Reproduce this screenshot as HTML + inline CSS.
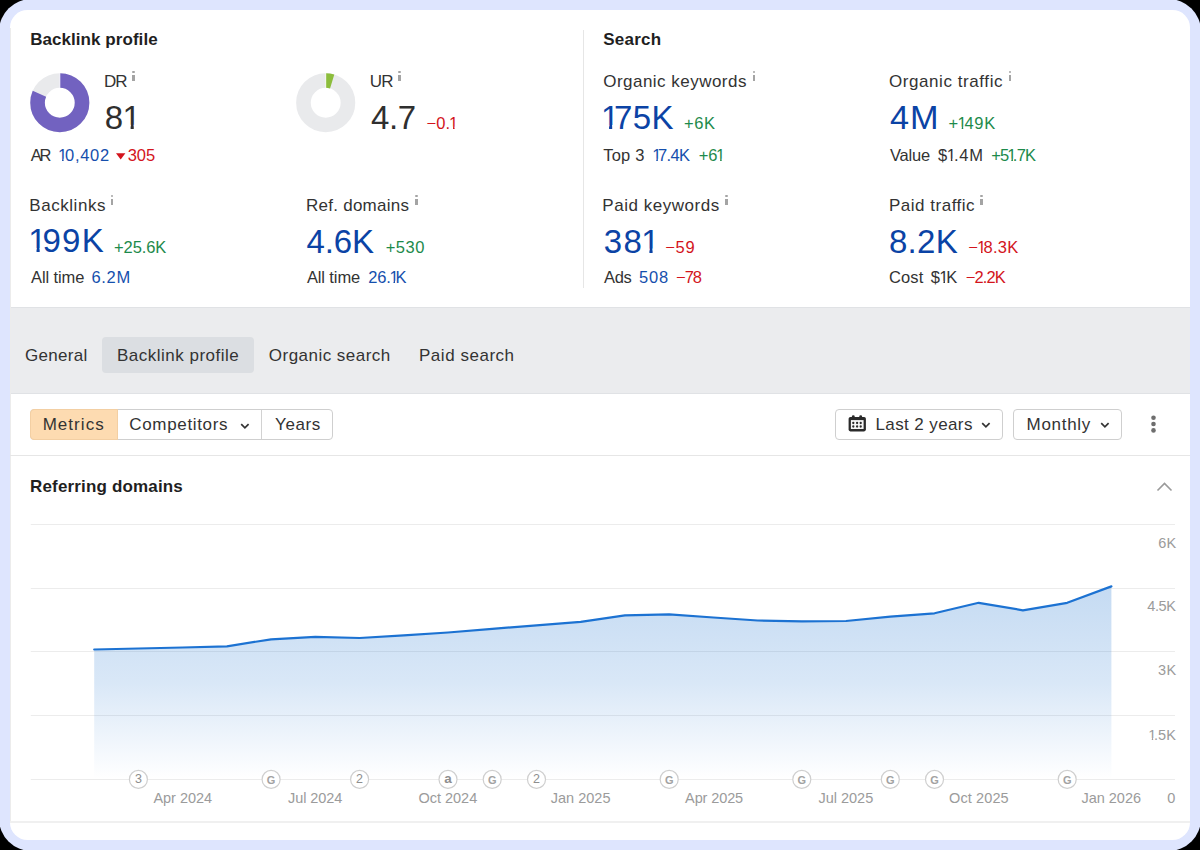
<!DOCTYPE html>
<html><head><meta charset="utf-8"><style>
*{box-sizing:border-box;margin:0;padding:0}
html,body{width:1200px;height:850px;overflow:hidden;background:#000}
body{font-family:"Liberation Sans",sans-serif;color:#333;position:relative}
#frame{position:absolute;left:-1.3px;top:-1.3px;width:1202.6px;height:852.6px;background:#dee5fe;border-radius:32.5px}
#card{position:absolute;left:10px;top:10px;width:1180px;height:830px;background:#fff;border-radius:17.5px;overflow:hidden}
.p{position:absolute;white-space:nowrap;line-height:1;font-family:"Liberation Sans",sans-serif}
.one{display:inline-block;margin-left:-.07em;margin-right:-.17em;clip-path:polygon(0 0,100% 0,100% .72em,.343em .72em,.343em 100%,.248em 100%,.248em .72em,0 .72em)}

.ii{position:absolute;width:2.6px;height:9.4px}
.ii:before{content:"";position:absolute;left:0;top:0;width:2.6px;height:2.1px;background:#a4a4a4;border-radius:1px}
.ii:after{content:"";position:absolute;left:0;top:3.5px;width:2.6px;height:6px;background:#a4a4a4}
.ln{position:absolute;background:#e6e6e6}
.btn{position:absolute;top:408.9px;height:31.4px;border:1px solid #cfcfcf;border-radius:4px;background:#fff}
</style></head><body>
<div id="frame"></div>
<div id="card">
  <!-- tabs band -->
  <div style="position:absolute;left:0;top:297px;width:1180px;height:87px;background:#ebecee;border-top:1.6px solid #e0e2e5;border-bottom:1.7px solid #e0e2e5"></div>
  <div style="position:absolute;left:92.3px;top:326.9px;width:152.1px;height:36.6px;background:#dbdee2;border-radius:4px"></div>
  <div style="position:absolute;left:0;top:18px;width:1px;height:795px;background:#ececec"></div>
  <!-- toolbar bottom border -->
  <div class="ln" style="left:0;top:445px;width:1180px;height:1px"></div>
  <!-- chart bottom border -->
  <div class="ln" style="left:0;top:811px;width:1180px;height:2px;background:#f0f0f0"></div>
</div>

<!-- vertical divider -->
<div class="ln" style="left:582.6px;top:29.5px;width:1.3px;height:258px;background:#e6e6e6"></div>

<!-- donuts -->
<svg style="position:absolute;left:0;top:0" width="600" height="170" viewBox="0 0 600 170">
  <g transform="translate(59.8,102.7)">
    <circle r="22.25" fill="none" stroke="#e9eaec" stroke-width="14.6"/>
    <circle r="22.25" fill="none" stroke="#7262c0" stroke-width="14.6" stroke-dasharray="113.3 200" transform="rotate(-90)"/>
    <line x1="0" y1="-14" x2="0" y2="-30" stroke="#fff" stroke-width="0.9"/>
  </g>
  <g transform="translate(325.7,102.7)">
    <circle r="22.25" fill="none" stroke="#e9eaec" stroke-width="14.6"/>
    <circle r="22.25" fill="none" stroke="#8cbd3c" stroke-width="14.6" stroke-dasharray="6.6 200" transform="rotate(-90)"/>
    <line x1="0" y1="-14" x2="0" y2="-30" stroke="#fff" stroke-width="0.9"/>
  </g>
  <!-- AR down triangle -->
  <path d="M116,153.2 H125.4 L120.7,159.4 Z" fill="#d3141c"/>
</svg>

<!-- info icons -->
<i class="ii" style="left:132.1px;top:71.2px"></i>
<i class="ii" style="left:398.2px;top:71.2px"></i>
<i class="ii" style="left:752.5px;top:71.2px"></i>
<i class="ii" style="left:1008.7px;top:71.2px"></i>
<i class="ii" style="left:110.7px;top:195px"></i>
<i class="ii" style="left:415px;top:195px"></i>
<i class="ii" style="left:725px;top:195px"></i>
<i class="ii" style="left:980px;top:195px"></i>

<!-- segmented control -->
<div class="btn" style="left:30.4px;width:302.8px">
  <div style="position:absolute;left:-1px;top:-1px;width:87.2px;height:31.4px;background:#fddbb1;border:1px solid #f3cfa3;border-radius:4px 0 0 4px"></div>
  <div style="position:absolute;left:229.8px;top:0;width:1px;height:29.4px;background:#d2d2d2"></div>
  <svg style="position:absolute;left:208.7px;top:12.8px" width="10" height="7"><path d="M1.2 1.2L4.9 4.9L8.6 1.2" fill="none" stroke="#333" stroke-width="1.7"/></svg>
</div>

<!-- date buttons -->
<div class="btn" style="left:835px;width:168px">

  <svg style="position:absolute;left:144.5px;top:12.6px" width="10" height="7"><path d="M1.2 1.2L4.9 4.9L8.6 1.2" fill="none" stroke="#333" stroke-width="1.7"/></svg>
</div>
<svg style="position:absolute;left:848px;top:414px" width="19" height="18" viewBox="0 0 19 18">
  <g fill="#2a2a2a">
    <rect x="0.6" y="2.9" width="17.3" height="14.5" rx="1.8"/>
    <circle cx="5.3" cy="2.7" r="1.45"/><circle cx="12.7" cy="2.7" r="1.45"/>
  </g>
  <rect x="2.9" y="6.1" width="12.7" height="8.9" fill="#f6f6f6"/>
  <g fill="#2a2a2a">
    <circle cx="5.3" cy="9" r="1.15"/><circle cx="9.1" cy="9" r="1.15"/><circle cx="12.7" cy="9" r="1.15"/>
    <circle cx="5.3" cy="12.5" r="1.15"/><circle cx="9.1" cy="12.5" r="1.15"/><circle cx="12.7" cy="12.5" r="1.15"/>
  </g>
</svg>
<div class="btn" style="left:1013px;width:109px">
  <svg style="position:absolute;left:85.6px;top:12.6px" width="10" height="7"><path d="M1.2 1.2L4.9 4.9L8.6 1.2" fill="none" stroke="#333" stroke-width="1.7"/></svg>
</div>
<svg style="position:absolute;left:1149px;top:413px" width="9" height="22">
  <circle cx="4.5" cy="4.7" r="2.3" fill="#6e6e6e"/><circle cx="4.5" cy="11" r="2.3" fill="#6e6e6e"/><circle cx="4.5" cy="17.4" r="2.3" fill="#6e6e6e"/>
</svg>

<!-- collapse chevron -->
<svg style="position:absolute;left:1156px;top:481px" width="17" height="11"><path d="M1.5 9.5L8.5 2.5L15.5 9.5" fill="none" stroke="#9a9a9a" stroke-width="1.6"/></svg>

<!-- chart -->
<svg style="position:absolute;left:0;top:0" width="1200" height="850" viewBox="0 0 1200 850">
  <defs>
    <linearGradient id="fg" x1="0" y1="586" x2="0" y2="779" gradientUnits="userSpaceOnUse">
      <stop offset="0" stop-color="#1f74d0" stop-opacity="0.26"/>
      <stop offset="0.5" stop-color="#1f74d0" stop-opacity="0.17"/>
      <stop offset="1" stop-color="#1f74d0" stop-opacity="0"/>
    </linearGradient>
  </defs>
  <g stroke="#ececec" stroke-width="1">
    <line x1="30.8" y1="524.5" x2="1175" y2="524.5"/>
    <line x1="30.8" y1="588.5" x2="1175" y2="588.5"/>
    <line x1="30.8" y1="651.5" x2="1175" y2="651.5"/>
    <line x1="30.8" y1="715.5" x2="1175" y2="715.5"/>
    <line x1="30.8" y1="779.5" x2="1175" y2="779.5"/>
  </g>
  <path fill="url(#fg)" d="M94.2,649.5 L138.4,648.5 L182.7,647.5 L226.9,646.3 L271.1,639.3 L315.3,636.8 L359.6,638.0 L403.8,635.3 L448.0,632.5 L492.2,628.8 L536.5,625.3 L580.7,621.8 L624.9,615.4 L669.2,614.3 L713.4,617.5 L757.6,620.5 L801.8,621.3 L846.0,621.0 L890.3,616.6 L934.5,613.3 L978.7,602.8 L1022.9,610.3 L1067.2,602.8 L1111.4,586.4 L1111.4,779 L94.2,779 Z"/>
  <path fill="none" stroke="#1c72d2" stroke-width="2.2" stroke-linejoin="round" stroke-linecap="round" d="M94.2,649.5 L138.4,648.5 L182.7,647.5 L226.9,646.3 L271.1,639.3 L315.3,636.8 L359.6,638.0 L403.8,635.3 L448.0,632.5 L492.2,628.8 L536.5,625.3 L580.7,621.8 L624.9,615.4 L669.2,614.3 L713.4,617.5 L757.6,620.5 L801.8,621.3 L846.0,621.0 L890.3,616.6 L934.5,613.3 L978.7,602.8 L1022.9,610.3 L1067.2,602.8 L1111.4,586.4"/>
  <g fill="#fff" stroke="#cfcfcf" stroke-width="1.2">
    <circle cx="138.4" cy="779.4" r="9"/>
    <circle cx="271.1" cy="779.4" r="9"/>
    <circle cx="359.6" cy="779.4" r="9"/>
    <circle cx="448.0" cy="779.4" r="9"/>
    <circle cx="492.2" cy="779.4" r="9"/>
    <circle cx="536.5" cy="779.4" r="9"/>
    <circle cx="669.2" cy="779.4" r="9"/>
    <circle cx="801.8" cy="779.4" r="9"/>
    <circle cx="890.3" cy="779.4" r="9"/>
    <circle cx="934.5" cy="779.4" r="9"/>
    <circle cx="1067.2" cy="779.4" r="9"/>
  </g>
  <g font-family="Liberation Sans" font-size="11.5" fill="#8e8e8e" text-anchor="middle">
    <text x="138.4" y="782.6" font-size="12.5">3</text>
    <text x="271.1" y="783.5" font-size="11" font-weight="700" fill="#a2a2a2">G</text>
    <text x="359.6" y="782.6" font-size="12.5">2</text>
    <text x="448.0" y="783.2" font-size="13.5" font-weight="700">a</text>
    <text x="492.2" y="783.5" font-size="11" font-weight="700" fill="#a2a2a2">G</text>
    <text x="536.5" y="782.6" font-size="12.5">2</text>
    <text x="669.2" y="783.5" font-size="11" font-weight="700" fill="#a2a2a2">G</text>
    <text x="801.8" y="783.5" font-size="11" font-weight="700" fill="#a2a2a2">G</text>
    <text x="890.3" y="783.5" font-size="11" font-weight="700" fill="#a2a2a2">G</text>
    <text x="934.5" y="783.5" font-size="11" font-weight="700" fill="#a2a2a2">G</text>
    <text x="1067.2" y="783.5" font-size="11" font-weight="700" fill="#a2a2a2">G</text>
  </g>

</svg>

<div class="p" id="t1" style="left:30.22px;top:31.41px;font-size:17px;font-weight:700;color:#1f1f1f;letter-spacing:0.053px">Backlink profile</div>
<div class="p" id="t2" style="left:603.20px;top:31.41px;font-size:17px;font-weight:700;color:#1f1f1f;letter-spacing:0.240px">Search</div>
<div class="p" id="t3" style="left:30.06px;top:478.31px;font-size:17px;font-weight:700;color:#1f1f1f;letter-spacing:0.160px">Referring domains</div>
<div class="p" id="l_dr" style="left:104.00px;top:73.41px;font-size:17px;font-weight:400;color:#333;letter-spacing:-1.120px">DR</div>
<div class="p" id="l_ur" style="left:369.80px;top:73.41px;font-size:17px;font-weight:400;color:#333;letter-spacing:-0.720px">UR</div>
<div class="p" id="l_ok" style="left:603.20px;top:73.41px;font-size:17px;font-weight:400;color:#333;letter-spacing:0.480px">Organic keywords</div>
<div class="p" id="l_ot" style="left:889.00px;top:73.41px;font-size:17px;font-weight:400;color:#333;letter-spacing:0.571px">Organic traffic</div>
<div class="p" id="b_81" style="left:104.78px;top:100.97px;font-size:33px;font-weight:400;color:#2f2f2f;letter-spacing:1.600px">8<span class="one">1</span></div>
<div class="p" id="b_47" style="left:371.00px;top:101.17px;font-size:33px;font-weight:400;color:#2f2f2f;letter-spacing:-0.400px">4.7</div>
<div class="p" id="b_175" style="left:603.20px;top:101.17px;font-size:33px;font-weight:400;color:#0b43a5;letter-spacing:0.400px"><span class="one">1</span>75K</div>
<div class="p" id="b_4m" style="left:890.00px;top:101.17px;font-size:33px;font-weight:400;color:#0b43a5;letter-spacing:0.800px;transform:scaleX(1.0378);transform-origin:0 0">4M</div>
<div class="p" id="d_01" style="left:426.50px;top:114.93px;font-size:16.5px;font-weight:400;color:#d3141c;letter-spacing:0.053px">−0.<span class="one">1</span></div>
<div class="p" id="d_6k" style="left:684.00px;top:114.93px;font-size:16.5px;font-weight:400;color:#1d8a4b;letter-spacing:0.600px">+6K</div>
<div class="p" id="d_149" style="left:948.50px;top:114.93px;font-size:16.5px;font-weight:400;color:#1d8a4b;letter-spacing:0.600px">+<span class="one">1</span>49K</div>
<div class="p" id="s_ar" style="left:30.68px;top:146.83px;font-size:16.5px;font-weight:400;color:#333;letter-spacing:-2.240px">AR</div>
<div class="p" id="s_ar2" style="left:59.12px;top:146.83px;font-size:16.5px;font-weight:400;color:#154fad;letter-spacing:0.704px"><span class="one">1</span>0,402</div>
<div class="p" id="s_305" style="left:127.78px;top:146.83px;font-size:16.5px;font-weight:400;color:#d3141c;letter-spacing:-0.080px">305</div>
<div class="p" id="s_top" style="left:603.34px;top:146.83px;font-size:16.5px;font-weight:400;color:#333;letter-spacing:0.160px">Top 3</div>
<div class="p" id="s_174" style="left:653.34px;top:146.83px;font-size:16.5px;font-weight:400;color:#154fad;letter-spacing:-0.640px"><span class="one">1</span>7.4K</div>
<div class="p" id="s_61" style="left:698.84px;top:146.83px;font-size:16.5px;font-weight:400;color:#1d8a4b;letter-spacing:-0.240px">+6<span class="one">1</span></div>
<div class="p" id="s_val" style="left:889.90px;top:146.83px;font-size:16.5px;font-weight:400;color:#333;letter-spacing:-0.200px">Value</div>
<div class="p" id="s_14m" style="left:937.90px;top:146.83px;font-size:16.5px;font-weight:400;color:#333;letter-spacing:0.800px">$<span class="one">1</span>.4M</div>
<div class="p" id="s_517" style="left:991.20px;top:146.83px;font-size:16.5px;font-weight:400;color:#1d8a4b;letter-spacing:-0.800px">+5<span class="one">1</span>.7K</div>
<div class="p" id="l_bl" style="left:29.30px;top:196.74px;font-size:17px;font-weight:400;color:#333;letter-spacing:0.550px">Backlinks</div>
<div class="p" id="l_rd" style="left:306.00px;top:196.74px;font-size:17px;font-weight:400;color:#333;letter-spacing:0.255px">Ref. domains</div>
<div class="p" id="l_pk" style="left:602.30px;top:196.74px;font-size:17px;font-weight:400;color:#333;letter-spacing:0.533px">Paid keywords</div>
<div class="p" id="l_pt" style="left:889.00px;top:196.74px;font-size:17px;font-weight:400;color:#333;letter-spacing:0.509px">Paid traffic</div>
<div class="p" id="b_199" style="left:30.65px;top:224.37px;font-size:33px;font-weight:400;color:#0b43a5;letter-spacing:1.333px"><span class="one">1</span>99K</div>
<div class="p" id="b_46" style="left:306.50px;top:224.72px;font-size:33px;font-weight:400;color:#0b43a5;letter-spacing:-0.133px">4.6K</div>
<div class="p" id="b_381" style="left:603.65px;top:224.77px;font-size:33px;font-weight:400;color:#0b43a5;letter-spacing:1.600px">38<span class="one">1</span></div>
<div class="p" id="b_82" style="left:889.00px;top:224.72px;font-size:33px;font-weight:400;color:#0b43a5;letter-spacing:0.267px">8.2K</div>
<div class="p" id="d_256" style="left:114.00px;top:238.73px;font-size:16.5px;font-weight:400;color:#1d8a4b;letter-spacing:-0.080px">+25.6K</div>
<div class="p" id="d_530" style="left:385.70px;top:238.73px;font-size:16.5px;font-weight:400;color:#1d8a4b;letter-spacing:0.533px">+530</div>
<div class="p" id="d_59" style="left:665.20px;top:238.73px;font-size:16.5px;font-weight:400;color:#d3141c;letter-spacing:0.800px">−59</div>
<div class="p" id="d_183" style="left:968.20px;top:238.73px;font-size:16.5px;font-weight:400;color:#d3141c;letter-spacing:0.240px">−<span class="one">1</span>8.3K</div>
<div class="p" id="s_at1" style="left:31.10px;top:268.83px;font-size:16.5px;font-weight:400;color:#333;letter-spacing:-0.114px">All time</div>
<div class="p" id="s_62" style="left:91.50px;top:268.83px;font-size:16.5px;font-weight:400;color:#154fad;letter-spacing:0.667px">6.2M</div>
<div class="p" id="s_at2" style="left:306.90px;top:268.83px;font-size:16.5px;font-weight:400;color:#333;letter-spacing:-0.114px">All time</div>
<div class="p" id="s_261" style="left:368.20px;top:268.83px;font-size:16.5px;font-weight:400;color:#154fad;letter-spacing:-0.200px">26.<span class="one">1</span>K</div>
<div class="p" id="s_ads" style="left:604.10px;top:268.83px;font-size:16.5px;font-weight:400;color:#333;letter-spacing:-0.400px">Ads</div>
<div class="p" id="s_508" style="left:639.00px;top:268.83px;font-size:16.5px;font-weight:400;color:#154fad;letter-spacing:0.800px">508</div>
<div class="p" id="s_78" style="left:676.00px;top:268.83px;font-size:16.5px;font-weight:400;color:#d3141c;letter-spacing:-1.000px">−78</div>
<div class="p" id="s_cost" style="left:889.00px;top:268.83px;font-size:16.5px;font-weight:400;color:#333;letter-spacing:0.133px">Cost</div>
<div class="p" id="s_1k" style="left:930.70px;top:268.83px;font-size:16.5px;font-weight:400;color:#333;letter-spacing:0.600px">$<span class="one">1</span>K</div>
<div class="p" id="s_22" style="left:965.70px;top:268.83px;font-size:16.5px;font-weight:400;color:#d3141c;letter-spacing:-0.900px">−2.2K</div>
<div class="p" id="tb1" style="left:25.00px;top:346.61px;font-size:17px;font-weight:400;color:#333;letter-spacing:0.293px">General</div>
<div class="p" id="tb2" style="left:117.00px;top:346.61px;font-size:17px;font-weight:400;color:#333;letter-spacing:0.491px">Backlink profile</div>
<div class="p" id="tb3" style="left:268.84px;top:346.61px;font-size:17px;font-weight:400;color:#333;letter-spacing:0.468px">Organic search</div>
<div class="p" id="tb4" style="left:419.00px;top:346.61px;font-size:17px;font-weight:400;color:#333;letter-spacing:0.528px">Paid search</div>
<div class="p" id="bt1" style="left:42.66px;top:415.61px;font-size:17px;font-weight:400;color:#333;letter-spacing:1.040px">Metrics</div>
<div class="p" id="bt2" style="left:129.34px;top:415.61px;font-size:17px;font-weight:400;color:#333;letter-spacing:0.656px">Competitors</div>
<div class="p" id="bt3" style="left:275.06px;top:415.61px;font-size:17px;font-weight:400;color:#333;letter-spacing:0.600px">Years</div>
<div class="p" id="bt4" style="left:875.50px;top:415.61px;font-size:17px;font-weight:400;color:#333;letter-spacing:0.393px">Last 2 years</div>
<div class="p" id="bt5" style="left:1026.50px;top:415.61px;font-size:17px;font-weight:400;color:#333;letter-spacing:0.720px">Monthly</div>
<div class="p" id="ax1" style="left:1158.35px;top:535.73px;font-size:14.5px;font-weight:400;color:#9b9b9b;letter-spacing:-0.000px">6K</div>
<div class="p" id="ax2" style="left:1147.30px;top:599.43px;font-size:14.5px;font-weight:400;color:#9b9b9b;letter-spacing:-0.400px">4.5K</div>
<div class="p" id="ax3" style="left:1158.00px;top:662.73px;font-size:14.5px;font-weight:400;color:#9b9b9b;letter-spacing:0.400px">3K</div>
<div class="p" id="ax4" style="left:1149.20px;top:727.53px;font-size:14.5px;font-weight:400;color:#9b9b9b;letter-spacing:0.133px"><span class="one">1</span>.5K</div>
<div class="p" id="ax5" style="left:1167.20px;top:790.73px;font-size:14.5px;font-weight:400;color:#9b9b9b;letter-spacing:0.000px">0</div>
<div class="p" id="xl1" style="left:153.43px;top:790.53px;font-size:14.5px;font-weight:400;color:#9b9b9b;letter-spacing:-0.029px">Apr 2024</div>
<div class="p" id="xl2" style="left:287.95px;top:790.53px;font-size:14.5px;font-weight:400;color:#9b9b9b;letter-spacing:-0.057px">Jul 2024</div>
<div class="p" id="xl3" style="left:418.40px;top:790.53px;font-size:14.5px;font-weight:400;color:#9b9b9b;letter-spacing:0.000px">Oct 2024</div>
<div class="p" id="xl4" style="left:550.80px;top:790.53px;font-size:14.5px;font-weight:400;color:#9b9b9b;letter-spacing:0.000px">Jan 2025</div>
<div class="p" id="xl5" style="left:685.10px;top:790.53px;font-size:14.5px;font-weight:400;color:#9b9b9b;letter-spacing:-0.114px">Apr 2025</div>
<div class="p" id="xl6" style="left:818.40px;top:790.53px;font-size:14.5px;font-weight:400;color:#9b9b9b;letter-spacing:0.000px">Jul 2025</div>
<div class="p" id="xl7" style="left:949.00px;top:790.53px;font-size:14.5px;font-weight:400;color:#9b9b9b;letter-spacing:0.114px">Oct 2025</div>
<div class="p" id="xl8" style="left:1081.40px;top:790.53px;font-size:14.5px;font-weight:400;color:#9b9b9b;letter-spacing:-0.000px">Jan 2026</div>
</body></html>
